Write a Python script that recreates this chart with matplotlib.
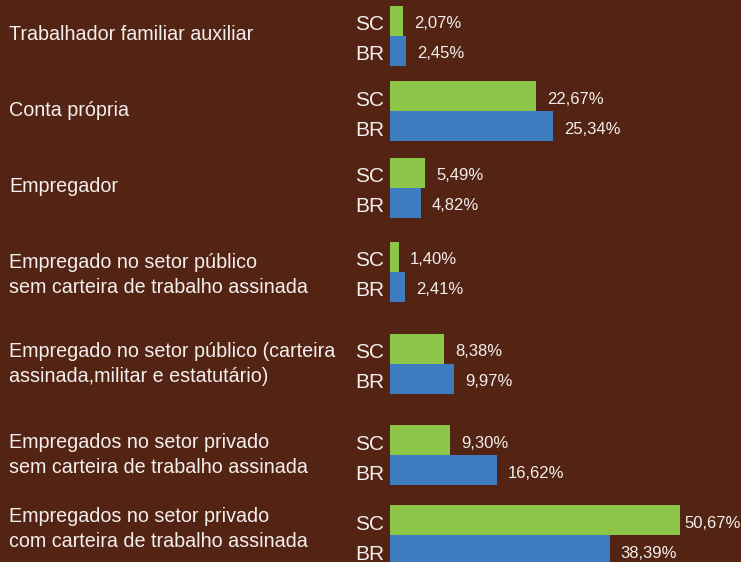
"""Posição na ocupação: SC x BR (barras horizontais)."""
import matplotlib
matplotlib.use("Agg")
import matplotlib.pyplot as plt

categories = [
    "Trabalhador familiar auxiliar",
    "Conta própria",
    "Empregador",
    "Empregado no setor público\nsem carteira de trabalho assinada",
    "Empregado no setor público (carteira\nassinada,militar e estatutário)",
    "Empregados no setor privado\nsem carteira de trabalho assinada",
    "Empregados no setor privado\ncom carteira de trabalho assinada",
]
sc_values = [2.07, 22.67, 5.49, 1.40, 8.38, 9.30, 50.67]
br_values = [2.45, 25.34, 4.82, 2.41, 9.97, 16.62, 38.39]
sc_labels = ["2,07%", "22,67%", "5,49%", "1,40%", "8,38%", "9,30%", "50,67%"]
br_labels = ["2,45%", "25,34%", "4,82%", "2,41%", "9,97%", "16,62%", "38,39%"]

# layout (pixel rows of the 741x562 canvas)
W, H = 741, 562
group_y = [36, 111, 188, 272, 364, 455, 535]
label_y = [35, 110, 187, 275, 364, 455, 529]
bar_h = 30
x0_px = 390
# the original squeezes the last group onto a smaller scale
px_per_pct = [6.42] * 6 + [5.72]

BG = "#532314"
GREEN = "#8DC548"
BLUE = "#3F7BBF"
TXT = "#F4EFEC"

plt.rcParams["font.family"] = ["Liberation Sans", "DejaVu Sans"]

fig = plt.figure(figsize=(W / 100, H / 100), dpi=100, facecolor=BG)
base = fig.add_axes([0, 0, 1, 1])
base.set_xlim(0, W)
base.set_ylim(H, 0)
base.axis("off")

axes_by_scale = {}
for scale in sorted(set(px_per_pct)):
    a = fig.add_axes([0, 0, 1, 1], sharey=base)
    a.set_xlim(-x0_px / scale, (W - x0_px) / scale)
    a.axis("off")
    a.patch.set_alpha(0)
    axes_by_scale[scale] = a

for i, cat in enumerate(categories):
    g = group_y[i]
    base.text(9, label_y[i], cat, ha="left", va="center",
              fontsize=14.2, color=TXT, linespacing=1.4)
    base.text(384, g - bar_h / 2 + 4, "SC", ha="right", va="center",
              fontsize=15, color=TXT)
    base.text(384, g + bar_h / 2 + 4, "BR", ha="right", va="center",
              fontsize=15, color=TXT)

    a = axes_by_scale[px_per_pct[i]]
    a.barh(g - bar_h / 2, sc_values[i], height=bar_h, color=GREEN, linewidth=0)
    a.barh(g + bar_h / 2, br_values[i], height=bar_h, color=BLUE, linewidth=0)
    for v, lab, y in ((sc_values[i], sc_labels[i], g - bar_h / 2),
                      (br_values[i], br_labels[i], g + bar_h / 2)):
        off = 3 if v > 45 else 8
        a.annotate(lab, (v, y + 3), xytext=(off, 0), textcoords="offset points",
                   ha="left", va="center", fontsize=12, color=TXT,
                   annotation_clip=False)

fig.savefig("out.png", dpi=100, facecolor=BG)
